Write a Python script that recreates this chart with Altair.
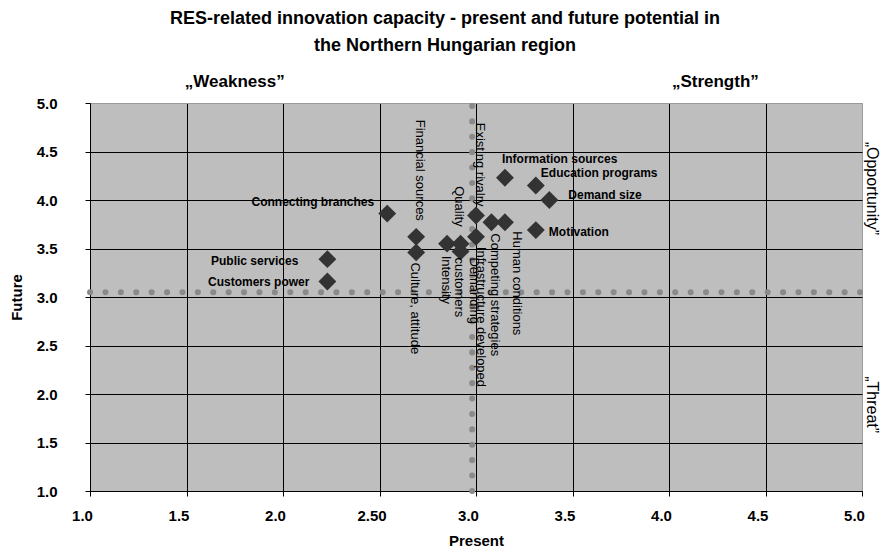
import altair as alt
import pandas as pd

# ---- data ----
factors = ["Public services", "Customers power", "Connecting branches", "Financial sources",
           "Culture, attitude", "Intensity", "Quality", "Demanding\ncustomers", "Existing rivalry",
           "Infrastructure developed", "Competing strategies", "Human conditions",
           "Information sources", "Education programs", "Demand size", "Motivation"]
present = [2.23, 2.23, 2.54, 2.69, 2.69, 2.85, 2.92, 2.92, 3.00, 3.00, 3.08, 3.15, 3.15, 3.31, 3.38, 3.31]
future = [3.39, 3.16, 3.86, 3.62, 3.46, 3.55, 3.55, 3.47, 3.84, 3.62, 3.77, 3.77, 4.23, 4.15, 4.00, 3.69]

avg_present = [2.98]   # vertical dotted reference line
avg_future = [3.05]    # horizontal dotted reference line

top_labels = ["„Weakness”", "„Strength”"]
top_label_x = [1.75, 4.24]
side_labels = ["„Opportunity”", "„Threat”"]
side_label_y = [4.12, 1.89]

ticks = [1.0, 1.5, 2.0, 2.5, 3.0, 3.5, 4.0, 4.5, 5.0]

# ---- label styling (offsets in pixels) ----
# name: (angle, align, dx, dy)
label_style = {
    "Public services": (0, "right", -29, 2),
    "Customers power": (0, "right", -18, 1),
    "Connecting branches": (0, "right", -13, -12),
    "Information sources": (0, "left", -3, -19),
    "Education programs": (0, "left", 5, -12),
    "Demand size": (0, "left", 19, -5),
    "Motivation": (0, "left", 13, 2),
    "Financial sources": (90, "right", -16, -4),
    "Culture, attitude": (90, "left", 10, 1),
    "Intensity": (90, "left", 12, 1),
    "Quality": (90, "right", -17, 2),
    "Demanding\ncustomers": (90, "left", 6, -13),
    "Existing rivalry": (90, "right", -9, -4),
    "Infrastructure developed": (90, "left", 10, -5),
    "Competing strategies": (90, "left", 11, -4),
    "Human conditions": (90, "left", 9, -12),
}

df = pd.DataFrame({"factor": factors, "present": present, "future": future})

FONT = "Liberation Sans, Arial, sans-serif"

xscale = alt.Scale(domain=[1, 5], nice=False, zero=False)
yscale = alt.Scale(domain=[1, 5], nice=False, zero=False)

grid_cond = {"condition": {"test": "datum.value === 5", "value": "#9a9a9a"}, "value": "black"}

x_axis = alt.Axis(values=ticks, grid=True,
                  labelExpr="datum.value == 2.5 ? '2.50' : format(datum.value, '.1f')",
                  labelOffset=-8, labelFlush=False, labelPadding=12, tickSize=5, tickColor="black",
                  domainColor="black", gridColor=grid_cond, gridWidth=1,
                  labelFont=FONT, labelFontSize=15, labelFontWeight="bold", labelColor="black",
                  titleFont=FONT, titleFontSize=15, titleFontWeight="bold", titleColor="black",
                  titlePadding=10)
y_axis = alt.Axis(values=ticks, grid=True, format=".1f", labelFlush=False, labelPadding=28, tickSize=5,
                  tickColor="black", domainColor="black", gridColor=grid_cond, gridWidth=1,
                  labelFont=FONT, labelFontSize=15, labelFontWeight="bold", labelColor="black",
                  titleFont=FONT, titleFontSize=15, titleFontWeight="bold", titleColor="black",
                  titlePadding=12)

x_enc = alt.X("present:Q", scale=xscale, title="Present", axis=x_axis)
y_enc = alt.Y("future:Q", scale=yscale, title="Future", axis=y_axis)

base = alt.Chart(df)

hline = alt.Chart(pd.DataFrame({"y": avg_future})).mark_rule(
    color="#8a8a8a", strokeWidth=6, strokeDash=[0.1, 15.3], strokeCap="round"
).encode(x=alt.datum(1, scale=xscale, axis=x_axis, title="Present"), x2=alt.datum(5),
         y=alt.Y("y:Q", scale=yscale, axis=y_axis, title="Future"))

vline = alt.Chart(pd.DataFrame({"x": avg_present})).mark_rule(
    color="#8a8a8a", strokeWidth=6, strokeDash=[0.1, 15.3], strokeCap="round"
).encode(x=alt.X("x:Q", scale=xscale, axis=x_axis, title="Present"),
         y=alt.datum(1, scale=yscale, axis=y_axis, title="Future"), y2=alt.datum(5))

points = base.mark_point(shape="diamond", filled=True, size=320, color="#333333", opacity=1).encode(
    x=x_enc, y=y_enc)

label_layers = []
for name in factors:
    ang, al, dx, dy = label_style[name]
    sub = df[df["factor"] == name]
    horiz = ang == 0
    lbl = alt.Chart(sub).mark_text(
        angle=ang, align=al, baseline="middle", dx=dx, dy=dy,
        font=FONT, fontSize=12 if horiz else 13, fontWeight="bold" if horiz else "normal",
        color="black", lineBreak="\n", lineHeight=15
    ).encode(x=alt.X("present:Q", scale=xscale), y=alt.Y("future:Q", scale=yscale), text="factor:N")
    label_layers.append(lbl)

top_df = pd.DataFrame({"t": top_labels, "x": top_label_x, "y": [5.0, 5.0]})
top_text = alt.Chart(top_df).mark_text(
    font=FONT, fontSize=17, fontWeight="bold", color="black", baseline="middle", dy=-21
).encode(x=alt.X("x:Q", scale=xscale), y=alt.Y("y:Q", scale=yscale), text="t:N")

side_df = pd.DataFrame({"t": side_labels, "x": [5.0, 5.0], "y": side_label_y})
side_text = alt.Chart(side_df).mark_text(
    font=FONT, fontSize=16, color="black", angle=90, align="center", baseline="middle", dy=-10
).encode(x=alt.X("x:Q", scale=xscale), y=alt.Y("y:Q", scale=yscale), text="t:N")

chart = alt.layer(hline, vline, points, *label_layers, top_text, side_text).properties(
    width=772, height=388,
    padding={"left": 82, "top": 95, "right": 20, "bottom": 58},
    autosize=alt.AutoSizeParams(type="none"),
    title=alt.TitleParams(
        text=["RES-related innovation capacity - present and future potential in",
              "the Northern Hungarian region"],
        font=FONT, fontSize=18, fontWeight="bold", color="black",
        anchor="middle", frame="group", dx=-31, offset=18, lineHeight=27),
).configure_view(fill="#BEBEBE", stroke="#9a9a9a")

chart.save("out.html", embed_options={"renderer": "svg", "actions": False})
